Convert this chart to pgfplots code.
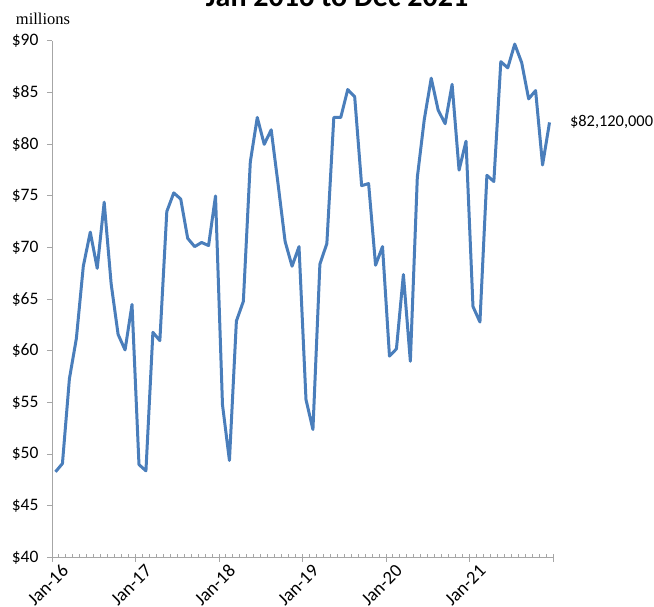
\documentclass[border=0pt]{standalone}
\usepackage{fontspec}
\setmainfont{Carlito}
\newfontfamily\seriffont{Liberation Serif}
\usepackage{pgfplots}
\usepackage{pgfplotstable}
\pgfplotsset{compat=1.18}
\definecolor{lineblue}{HTML}{4A7EBB}
\definecolor{axgray}{HTML}{A6A6A6}
\pgfplotstableread{
v
48.3
49.1
57.3
61.2
68.2
71.5
68.0
74.4
66.5
61.6
60.1
64.5
49.0
48.4
61.8
61.0
73.5
75.3
74.7
70.9
70.1
70.5
70.2
75.0
54.8
49.4
62.9
64.8
78.3
82.6
80.0
81.4
76.1
70.6
68.2
70.1
55.3
52.4
68.4
70.4
82.6
82.6
85.3
84.6
76.0
76.2
68.3
70.1
59.5
60.2
67.4
59.0
76.8
82.4
86.4
83.3
82.0
85.8
77.5
80.3
64.3
62.8
77.0
76.4
88.0
87.4
89.7
87.9
84.4
85.2
78.0
82.12
}\sales
\begin{document}
\fontsize{16}{19}\selectfont
\begin{tikzpicture}[x=1pt,y=1pt]
\useasboundingbox (0,0) rectangle (654,607);
\node[font=\fontsize{30}{36}\selectfont\bfseries, anchor=base] at (337,600) {Jan 2016 to Dec 2021};
\node[font=\seriffont\fontsize{16.5}{19}\selectfont, anchor=base] at (43,582) {millions};
\begin{axis}[
  at={(52pt,49.4pt)}, anchor=south west,
  scale only axis, width=501pt, height=516.6pt,
  xmin=-0.5, xmax=71.5, ymin=40, ymax=90,
  clip=false,
  axis lines=left,
  axis line style={-, draw=axgray, line width=1pt},
  tick style={draw=axgray, line width=1pt},
  tick align=outside,
  major tick length=5pt,
  minor tick length=4pt,
  minor x tick style={yshift=4pt},
  major x tick style={yshift=4pt, /pgfplots/major tick length=8pt},
  ytick={40,45,...,90},
  yticklabels={\$40,\$45,\$50,\$55,\$60,\$65,\$70,\$75,\$80,\$85,\$90},
  xtick={-0.5,11.5,23.5,35.5,47.5,59.5,71.5},
  xticklabels={Jan-16,Jan-17,Jan-18,Jan-19,Jan-20,Jan-21,{}},
  minor xtick={0.5,1.5,...,70.5},
  ticklabel style={font=\fontsize{17.5}{20}\selectfont, text=black},
  yticklabel style={xshift=-3pt},
  xticklabel style={font=\fontsize{18.5}{21}\selectfont, rotate=45, anchor=east, yshift=-13pt, xshift=11pt},
]
\addplot[lineblue, line width=3pt, line join=round] table[x expr=\coordindex, y=v] {\sales};
\node[anchor=west, font=\fontsize{16.4}{19}\selectfont, xshift=15pt] at (axis cs:71,82.12) {\$82,120,000};
\end{axis}
\end{tikzpicture}
\end{document}
